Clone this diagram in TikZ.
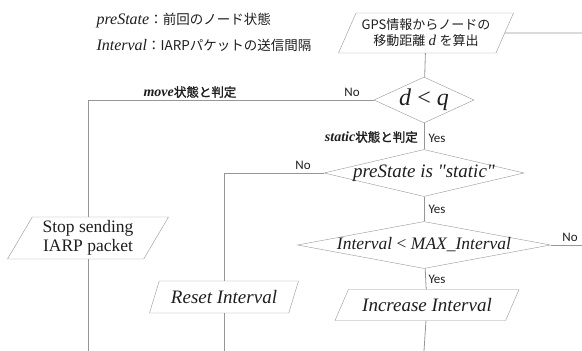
\documentclass[tikz,border=0pt]{standalone}
\usepackage{fontspec}
\setmainfont{Liberation Serif}[Ligatures=TeXOff]
\newfontfamily\jp{Noto Sans CJK JP}
\newfontfamily\jpbold{Noto Sans CJK JP}[FakeBold=1.6]
\newfontfamily\lblfont{Carlito}
\usepackage{tikz}
\usetikzlibrary{shapes,arrows,calc}
\definecolor{linegray}{RGB}{150,150,150}
\definecolor{inkgray}{RGB}{30,30,30}
\newcommand{\nowd}[1]{\makebox[0pt]{#1}}
\newcommand{\fs}[1]{\fontsize{#1}{#1}\selectfont}
\tikzset{
   io/.style={trapezium, trapezium left angle=#1, trapezium right angle=180-#1,
              trapezium stretches body, draw=linegray, inner sep=0pt, align=center},
   io/.default=56,
   decision/.style={diamond, draw=linegray, inner sep=0pt},
   answer/.style={font=\lblfont\fs{13}, inner sep=0pt},
   judge/.style={font=\fs{12.5}, inner sep=0pt},
   flow/.style={draw=linegray, line width=0.8pt}
}

\begin{document}
\begin{tikzpicture}[x=1pt,y=-1pt,every node/.style={text=inkgray}]
\useasboundingbox (0,0) rectangle (582,351);

% legend
\node[anchor=west] (lgstate) at (93,20)
   {{\fs{16}\textit{preState}}{\jp\fs{13.5}：前回のノード状態}};
\node[anchor=west] (lgintv) at (93,45)
   {{\fs{16}\textit{Interval}}{\jp\fs{13.5}：IARPパケットの送信間隔}};

% main column
\node[io=58, minimum width=175pt, minimum height=40pt, font=\fs{13}] (gps) at (426,33)
   {{\jp GPS情報からノードの}\\[3pt]{\jp 移動距離} {\fs{15}\textit{d}} {\jp を算出}};
\node[decision, minimum width=100pt, minimum height=46pt] (dq) at (424,100)
   {\nowd{\fs{24}\textit{d} < \textit{q}}};
\node[decision, minimum width=200pt, minimum height=47pt] (prest) at (424,173)
   {\nowd{\fs{19}\textit{preState is "static"}}};
\node[decision, minimum width=253pt, minimum height=47pt] (intv) at (424,245)
   {\nowd{\fs{17.5}\textit{Interval} < \textit{MAX\_Interval}}};
\node[io=45, minimum width=184pt, minimum height=31pt, font=\fs{19}] (incr) at (427,305)
   {\textit{Increase Interval}};

% side branches
\node[io=55, minimum width=161pt, minimum height=42pt, font=\fs{17.5}] (stop) at (88,238)
   {Stop sending\\[2pt]IARP packet};
\node[io=54, minimum width=149pt, minimum height=32pt, font=\fs{19}] (reset) at (224,297)
   {\textit{Reset Interval}};

% free ends
\coordinate (gpsout) at (582,33);
\coordinate (intvout) at (582,245);
\coordinate (stopout) at (88,351);
\coordinate (resetout) at (224,351);
\coordinate (incrout) at (424,351);

% labels
\node[answer] (no1) at (352,92) {No};
\node[judge] (mv) at (190,92) {{\fs{14}\textbf{\textit{move}}}{\jpbold 状態と判定}};
\node[answer] (yes1) at (437,138) {Yes};
\node[judge, anchor=east] (st) at (418,137) {{\fs{14}\textbf{\textit{static}}}{\jpbold 状態と判定}};
\node[answer] (no2) at (303,165) {No};
\node[answer] (yes2) at (437,209) {Yes};
\node[answer] (no3) at (570,237) {No};
\node[answer] (yes3) at (437,279) {Yes};

\path[flow]
(gps) edge (dq)
(gps.east) edge (gpsout)
(dq) edge (prest)
(prest) edge (intv)
(intv) edge (incr)
(intv.east) edge (intvout)
(incr) edge (incrout)
(stop) edge (stopout)
(reset) edge (resetout)
;
\draw[flow] (dq.west) -| (stop);
\draw[flow] (prest.west) -| (reset);

\end{tikzpicture}
\end{document}
